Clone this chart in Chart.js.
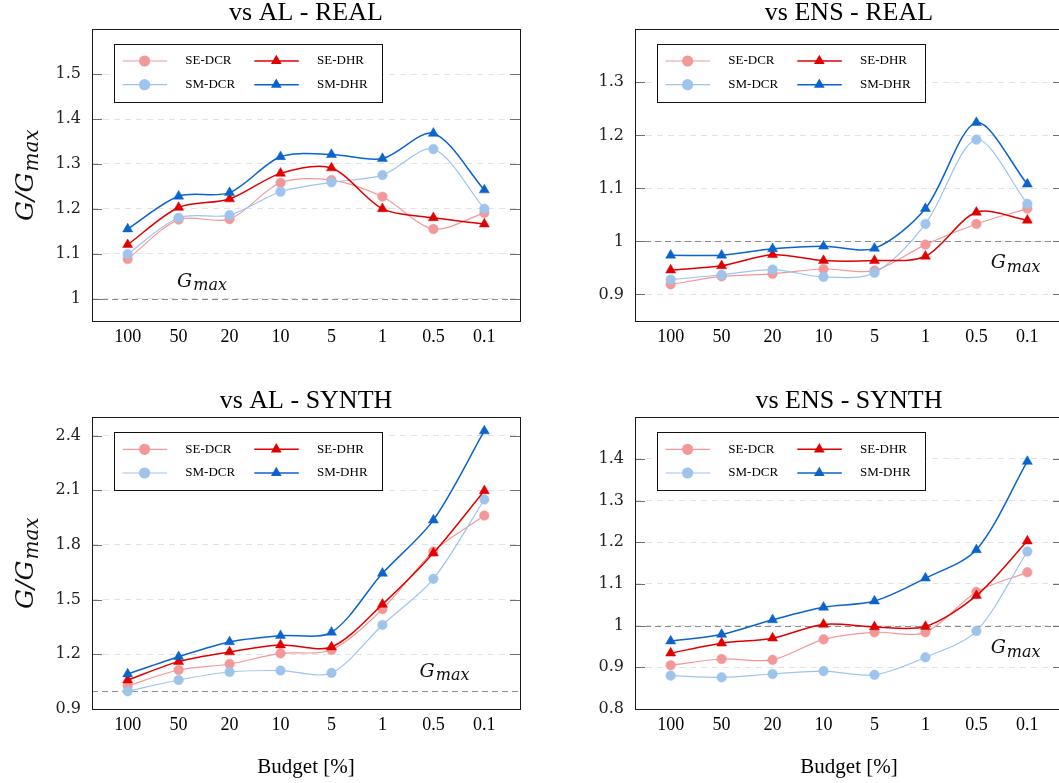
<!DOCTYPE html>
<html>
<head>
<meta charset="utf-8">
<script src="https://cdn.jsdelivr.net/npm/chart.js@4.4.1/dist/chart.umd.min.js"></script>
<style>
  html, body { margin: 0; padding: 0; background: #fff; }
  body { position: relative; width: 1059px; height: 783px; overflow: hidden; }
  canvas { position: absolute; }
</style>
</head>
<body>
<canvas id="alReal" width="530" height="360" style="left:0px;top:0px;width:530px;height:360px"></canvas>
<canvas id="ensReal" width="530" height="360" style="left:543px;top:0px;width:530px;height:360px"></canvas>
<canvas id="alSynth" width="530" height="395" style="left:0px;top:388px;width:530px;height:395px"></canvas>
<canvas id="ensSynth" width="530" height="395" style="left:543px;top:388px;width:530px;height:395px"></canvas>
<script>
// x軸のカテゴリ (Budget [%])
const budgetLabels = ["100", "50", "20", "10", "5", "1", "0.5", "0.1"];
const seriesNames = ["SE-DCR", "SE-DHR", "SM-DCR", "SM-DHR"];

// vs AL - REAL
const alRealSeDcr = [1.088, 1.176, 1.177, 1.258, 1.264, 1.227, 1.155, 1.191];
const alRealSeDhr = [1.120, 1.203, 1.222, 1.279, 1.291, 1.200, 1.180, 1.166];
const alRealSmDcr = [1.099, 1.180, 1.186, 1.238, 1.259, 1.275, 1.333, 1.200];
const alRealSmDhr = [1.155, 1.228, 1.236, 1.316, 1.321, 1.312, 1.368, 1.242];
const alRealTicks = [1, 1.1, 1.2, 1.3, 1.4, 1.5];
const alRealRange = [0.95, 1.6];

// vs ENS - REAL
const ensRealSeDcr = [0.919, 0.934, 0.939, 0.948, 0.945, 0.994, 1.033, 1.062];
const ensRealSeDhr = [0.946, 0.954, 0.975, 0.964, 0.964, 0.972, 1.055, 1.040];
const ensRealSmDcr = [0.928, 0.937, 0.947, 0.933, 0.941, 1.033, 1.192, 1.071];
const ensRealSmDhr = [0.974, 0.974, 0.986, 0.991, 0.987, 1.062, 1.224, 1.108];
const ensRealTicks = [0.9, 1, 1.1, 1.2, 1.3];
const ensRealRange = [0.85, 1.4];

// vs AL - SYNTH
const alSynthSeDcr = [1.027, 1.114, 1.147, 1.205, 1.224, 1.448, 1.764, 1.961];
const alSynthSeDhr = [1.059, 1.160, 1.213, 1.251, 1.240, 1.474, 1.755, 2.097];
const alSynthSmDcr = [0.997, 1.059, 1.103, 1.111, 1.098, 1.361, 1.614, 2.049];
const alSynthSmDhr = [1.092, 1.187, 1.268, 1.302, 1.321, 1.644, 1.936, 2.425];
const alSynthTicks = [0.9, 1.2, 1.5, 1.8, 2.1, 2.4];
const alSynthRange = [0.9, 2.5];

// vs ENS - SYNTH
const ensSynthSeDcr = [0.905, 0.920, 0.918, 0.967, 0.984, 0.984, 1.081, 1.128];
const ensSynthSeDhr = [0.934, 0.958, 0.970, 1.003, 0.997, 0.998, 1.072, 1.203];
const ensSynthSmDcr = [0.880, 0.876, 0.884, 0.891, 0.882, 0.924, 0.987, 1.178];
const ensSynthSmDhr = [0.963, 0.979, 1.014, 1.044, 1.059, 1.114, 1.182, 1.394];
const ensSynthTicks = [0.8, 0.9, 1, 1.1, 1.2, 1.3, 1.4];
const ensSynthRange = [0.8, 1.5];

// 系列の見た目
const seriesColors = ["#f29898", "#e00000", "#9ec4ec", "#0a64cc"];
const seriesStyles = ["circle", "triangle", "circle", "triangle"];
const seriesWidths = [1.2, 1.5, 1.2, 1.5];
const seriesOrder = [4, 2, 3, 1]; // DHR drawn on top

const SERIF = "'Liberation Serif', 'Times New Roman', serif";
const MATH = "'DejaVu Serif', serif";

// marker for legend
function drawMarker(ctx, style, x, y, color) {
  ctx.fillStyle = color;
  ctx.beginPath();
  if (style === "circle") {
    ctx.arc(x, y, 5.6, 0, Math.PI * 2);
  } else {
    const r = 6.2;
    ctx.moveTo(x, y - r);
    ctx.lineTo(x + r * 0.866, y + r * 0.5);
    ctx.lineTo(x - r * 0.866, y + r * 0.5);
    ctx.closePath();
  }
  ctx.fill();
}

// G_max の斜体テキスト
function drawGmax(ctx, x, y, big, small, shift) {
  ctx.font = "italic " + big + "px " + MATH;
  ctx.textAlign = "left";
  ctx.textBaseline = "alphabetic";
  ctx.fillText("G", x, y);
  const w = ctx.measureText("G").width;
  ctx.font = "italic " + small + "px " + MATH;
  ctx.fillText("max", x + w + 1, y + shift);
}

const framePlugin = {
  id: "frame",
  beforeDatasetsDraw(chart, args, opts) {
    const { ctx, chartArea: a } = chart;
    const y = chart.scales.y;
    ctx.save();
    // 基準線 y = 1
    const y1 = Math.round(y.getPixelForValue(1)) + 0.5;
    ctx.strokeStyle = "#8c8c8c";
    ctx.lineWidth = 1.2;
    ctx.setLineDash([6, 4]);
    ctx.beginPath();
    ctx.moveTo(a.left, y1);
    ctx.lineTo(a.right, y1);
    ctx.stroke();
    ctx.setLineDash([]);
    // 内側の目盛り
    ctx.strokeStyle = "#707070";
    ctx.lineWidth = 1;
    y.ticks.forEach((t) => {
      const py = Math.round(y.getPixelForValue(t.value)) + 0.5;
      ctx.beginPath();
      ctx.moveTo(a.left, py);
      ctx.lineTo(a.left + 10, py);
      ctx.moveTo(a.right - 10, py);
      ctx.lineTo(a.right, py);
      ctx.stroke();
    });
    ctx.restore();
  },
  afterDraw(chart, args, opts) {
    const { ctx, chartArea: a } = chart;
    ctx.save();
    // 枠
    ctx.strokeStyle = "#1a1a1a";
    ctx.lineWidth = 1;
    ctx.strokeRect(Math.round(a.left) + 0.5, Math.round(a.top) + 0.5,
      Math.round(a.right - a.left), Math.round(a.bottom - a.top));

    // 凡例
    const bx = a.left + 21.6;
    const by = a.top + opts.legendTop;
    ctx.fillStyle = "#fff";
    ctx.fillRect(bx, by, 268.7, 58);
    ctx.strokeStyle = "#111";
    ctx.strokeRect(Math.round(bx) + 0.5, Math.round(by) + 0.5, 268, 58);
    chart.data.datasets.forEach((ds, k) => {
      const col = k % 2;
      const row = Math.floor(k / 2);
      const ly = by + 17 + row * 23.7;
      const lx = bx + 9 + col * 131.7;
      ctx.strokeStyle = ds.borderColor;
      ctx.lineWidth = ds.borderWidth;
      ctx.beginPath();
      ctx.moveTo(lx, ly);
      ctx.lineTo(lx + 44.5, ly);
      ctx.stroke();
      drawMarker(ctx, ds.pointStyle, lx + 22, ly, ds.borderColor);
      ctx.fillStyle = "#000";
      ctx.font = "13px " + SERIF;
      ctx.textAlign = "left";
      ctx.textBaseline = "middle";
      ctx.fillText(ds.label, lx + 62.7, ly);
    });

    // G_max 注記
    const nx = chart.scales.x.getPixelForValue(opts.note[0]);
    const ny = chart.scales.y.getPixelForValue(opts.note[1]);
    ctx.fillStyle = "#111";
    drawGmax(ctx, nx, ny, 19, 16, 3.5);

    // y軸タイトル G/G_max
    if (opts.yTitle) {
      const cy = (a.top + a.bottom) / 2;
      ctx.translate(33, cy);
      ctx.rotate(-Math.PI / 2);
      ctx.font = "italic 25px " + MATH;
      const w1 = ctx.measureText("G/G").width;
      ctx.font = "italic 20px " + MATH;
      const w2 = ctx.measureText("max").width;
      const x0 = -(w1 + w2 + 1) / 2;
      ctx.fillStyle = "#111";
      ctx.textAlign = "left";
      ctx.textBaseline = "alphabetic";
      ctx.font = "italic 25px " + MATH;
      ctx.fillText("G/G", x0, 0);
      ctx.font = "italic 20px " + MATH;
      ctx.fillText("max", x0 + w1 + 1, 5);
    }
    ctx.restore();
  },
};

// チャート設定を作る
function makeConfig(title, values, yTicks, yRange, note, isBottom, yTitle) {
  const datasets = seriesNames.map((name, k) => ({
    label: name,
    data: values[k].map((v, i) => ({ x: i, y: v })),
    borderColor: seriesColors[k],
    backgroundColor: seriesColors[k],
    pointBackgroundColor: seriesColors[k],
    pointBorderColor: seriesColors[k],
    pointStyle: seriesStyles[k],
    pointRadius: seriesStyles[k] === "circle" ? 4.8 : 5.8,
    pointBorderWidth: 0.5,
    borderWidth: seriesWidths[k],
    tension: 0.3,
    fill: false,
    order: seriesOrder[k],
  }));
  return {
    type: "line",
    data: { datasets: datasets },
    options: {
      responsive: false,
      animation: false,
      events: [],
      layout: { padding: { top: 0, right: 10, bottom: 0, left: 0 } },
      plugins: {
        legend: { display: false },
        tooltip: { enabled: false },
        title: {
          display: true,
          text: title,
          fullSize: false,
          color: "#000",
          font: { family: SERIF, size: 26, weight: "normal", lineHeight: 1.05 },
          padding: { top: 0, bottom: 2 },
        },
        frame: { note: note, yTitle: yTitle, legendTop: isBottom ? 15 : 14.7 },
      },
      scales: {
        x: {
          type: "linear",
          min: -0.7,
          max: 7.7,
          afterBuildTicks: (scale) => {
            scale.ticks = budgetLabels.map((_, i) => ({ value: i }));
          },
          afterFit: (scale) => {
            scale.height = isBottom ? 74 : 39;
          },
          grid: { display: false, drawTicks: false },
          border: { display: false },
          ticks: {
            autoSkip: false,
            maxRotation: 0,
            padding: 5,
            color: "#000",
            font: { family: SERIF, size: 18 },
            callback: (v) => budgetLabels[v],
          },
          title: {
            display: isBottom,
            text: "Budget [%]",
            color: "#000",
            font: { family: SERIF, size: 21 },
            padding: { top: 0, bottom: 3 },
          },
        },
        y: {
          type: "linear",
          min: yRange[0],
          max: yRange[1],
          afterBuildTicks: (scale) => {
            scale.ticks = yTicks.map((v) => ({ value: v }));
          },
          afterFit: (scale) => {
            scale.width = 92;
          },
          grid: { color: "#e2e2e2", lineWidth: 1, drawTicks: false },
          border: { display: false, dash: [6, 5] },
          ticks: {
            padding: 11,
            color: "#222",
            font: { family: MATH, size: 16 },
            callback: (v) => String(+Number(v).toFixed(2)),
          },
        },
      },
    },
    plugins: [framePlugin],
  };
}

const chartConfigs = {
  alReal: makeConfig("vs AL - REAL",
    [alRealSeDcr, alRealSeDhr, alRealSmDcr, alRealSmDhr],
    alRealTicks, alRealRange, [0.97, 1.026], false, true),
  ensReal: makeConfig("vs ENS - REAL",
    [ensRealSeDcr, ensRealSeDhr, ensRealSmDcr, ensRealSmDhr],
    ensRealTicks, ensRealRange, [6.28, 0.949], false, false),
  alSynth: makeConfig("vs AL - SYNTH",
    [alSynthSeDcr, alSynthSeDhr, alSynthSmDcr, alSynthSmDhr],
    alSynthTicks, alSynthRange, [5.73, 1.077], true, true),
  ensSynth: makeConfig("vs ENS - SYNTH",
    [ensSynthSeDcr, ensSynthSeDhr, ensSynthSmDcr, ensSynthSmDhr],
    ensSynthTicks, ensSynthRange, [6.28, 0.934], true, false),
};

const charts = {};
Object.keys(chartConfigs).forEach((key) => {
  charts[key] = new Chart(document.getElementById(key), chartConfigs[key]);
});
</script>
</body>
</html>
